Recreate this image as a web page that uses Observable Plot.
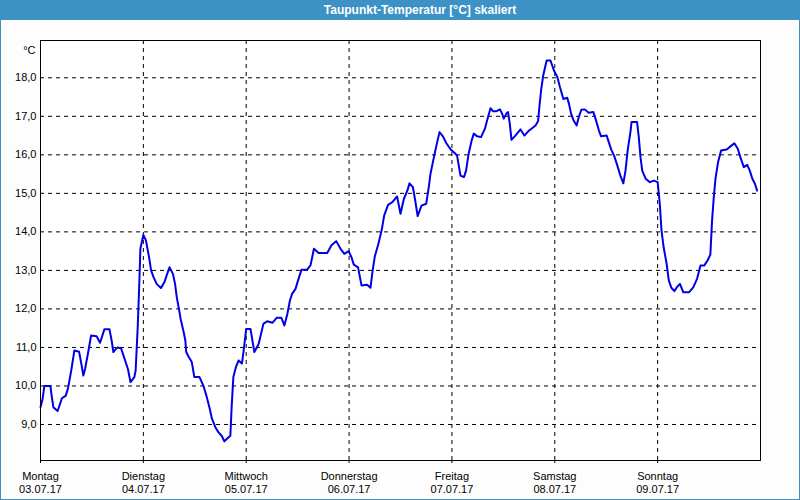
<!DOCTYPE html>
<html>
<head>
<meta charset="utf-8">
<script src="https://cdn.jsdelivr.net/npm/d3@7"></script>
<script src="https://cdn.jsdelivr.net/npm/@observablehq/plot@0.6"></script>
<style>
  html, body { margin: 0; padding: 0; background: #fcfdfc; }
  #win { position: relative; width: 800px; height: 500px; background: #fcfdfc; overflow: hidden; }
  #title { position: absolute; left: 0; top: 0; width: 800px; height: 20px; box-sizing: border-box;
           padding-left: 40px; background: #3c91c5; color: #fff; text-align: center;
           font: bold 12px "Liberation Sans", Arial, sans-serif; line-height: 21px; }
  #chart { position: absolute; left: 0; top: 20px; }
  #border { position: absolute; left: 0; top: 0; width: 800px; height: 500px; box-sizing: border-box;
            border: 1px solid #3c91c5; border-top: none; pointer-events: none; }
</style>
</head>
<body>
<div id="win">
  <div id="title">Taupunkt-Temperatur [°C] skaliert</div>
  <div id="chart"></div>
  <div id="border"></div>
</div>
<script>
// Hours since Montag 03.07.17 00:00
const hours = [
  0, 0.5, 0.9, 2.3, 2.6, 3.0, 4.0, 5.0, 5.9, 6.4, 6.9, 7.3, 7.9, 9.0, 9.6, 10.0, 10.4, 11.2, 11.8, 13.1,
  13.9, 14.9, 16.1, 16.6, 17.0, 17.6, 18.0, 18.8, 19.6, 20.4, 21.0, 21.9, 22.2, 22.7, 23.1, 23.3, 24.0,
  24.6, 25.4, 25.8, 26.4, 27.1, 28.1, 28.9, 29.5, 30.1, 30.9, 31.4, 31.8, 32.3, 32.7, 33.4, 33.8, 34.0,
  34.5, 35.3, 35.9, 37.1, 38.0, 38.7, 39.4, 40.0, 40.8, 41.5, 42.3, 42.9, 43.5, 44.3, 44.6, 45.0, 45.6,
  46.2, 47.0, 47.4, 48.0,
  49.0, 49.9, 50.9, 52.0, 52.9, 54.1, 55.1, 56.2, 56.9, 57.6, 58.2, 58.7, 59.5, 60.1, 60.9, 62.2, 63.0,
  63.8, 64.9, 66.9, 67.9, 69.0, 70.0, 70.9, 71.9,
  72.6, 73.1, 74.1, 74.9, 76.2, 77.0, 77.5, 78.0, 78.8, 79.6, 80.2, 81.1, 82.1, 83.2, 84.0, 84.8, 85.6,
  86.1, 86.9, 87.5, 88.0, 88.9, 90.0, 90.6, 91.0, 91.8, 92.3, 93.1, 93.9, 94.7, 95.7,
  96.7, 97.2, 97.6, 98.0, 98.8, 99.3, 99.9, 100.6, 101.1, 101.9, 102.8, 103.7, 104.2, 105.0, 105.6, 106.3,
  107.2, 107.7, 108.1, 108.7, 109.1, 109.5, 109.9, 110.8, 112.0, 112.9, 113.8, 114.7, 115.5, 116.1, 116.4,
  116.8, 117.3, 118.1, 119.0,
  119.8, 120.6, 121.2, 122.0, 122.9, 123.3, 123.8, 124.4, 125.1, 125.6, 126.2, 127.0, 127.9, 129.0, 129.5,
  130.3, 130.8, 132.1, 132.6, 133.2, 133.9, 134.6, 135.3, 136.0, 136.5, 137.0, 137.7, 137.9, 139.2, 139.6,
  140.0, 140.4, 141.2, 142.2, 143.1, 144.0,
  144.5, 144.9, 145.4, 146.1, 146.6, 147.2, 147.9, 148.6, 149.2, 150.0, 151.3, 152.3, 153.2, 154.0, 154.9,
  155.7, 156.3, 156.7, 157.1, 157.5, 158.1, 158.8, 160.1, 161.0, 161.9, 162.7, 163.3, 164.1, 164.9, 165.5,
  166.1, 166.7, 167.2
];
// Dew point temperature, °C
const values = [
  9.45, 9.67, 10.0, 10.0, 9.75, 9.45, 9.35, 9.68, 9.75, 9.93, 10.23, 10.49, 10.92, 10.89, 10.53, 10.27, 10.44, 10.92, 11.31, 11.29,
  11.12, 11.47, 11.47, 11.18, 10.88, 10.96, 11.0, 10.98, 10.71, 10.44, 10.1, 10.23, 10.4, 11.57, 12.82, 13.56, 13.92,
  13.78, 13.3, 13.0, 12.82, 12.65, 12.54, 12.69, 12.89, 13.08, 12.91, 12.65, 12.3, 12.0, 11.74, 11.4, 11.18, 10.88,
  10.77, 10.62, 10.23, 10.23, 10.01, 9.75, 9.45, 9.15, 8.93, 8.8, 8.7, 8.56, 8.63, 8.71, 9.45, 10.23, 10.49,
  10.66, 10.58, 10.92, 11.48,
  11.48, 10.88, 11.09, 11.61, 11.68, 11.64, 11.77, 11.77, 11.57, 11.87, 12.22, 12.39, 12.52, 12.74, 13.02, 13.02, 13.13,
  13.56, 13.45, 13.45, 13.65, 13.76, 13.56, 13.43, 13.5,
  13.33, 13.15, 13.08, 12.61, 12.63, 12.55, 13.0, 13.36, 13.67, 14.04, 14.43, 14.7, 14.77, 14.92, 14.47, 14.86, 15.07,
  15.26, 15.16, 14.77, 14.41, 14.68, 14.73, 15.16, 15.51, 15.94, 16.2, 16.59, 16.48, 16.3, 16.14,
  16.04, 15.98, 15.72, 15.46, 15.42, 15.59, 16.03, 16.37, 16.55, 16.48, 16.46, 16.68, 16.89, 17.21, 17.13, 17.13,
  17.18, 17.07, 16.94, 17.07, 17.11, 16.81, 16.39, 16.5, 16.66, 16.5, 16.61, 16.69, 16.76, 16.87, 17.24,
  17.67, 18.06, 18.45, 18.45,
  18.19, 18.02, 17.76, 17.45, 17.48, 17.33, 17.07, 16.89, 16.76, 16.98, 17.17, 17.18, 17.09, 17.11, 16.94,
  16.63, 16.48, 16.5, 16.33, 16.13, 15.96, 15.72, 15.46, 15.26, 15.59, 16.11, 16.63, 16.85, 16.85, 16.46,
  15.94, 15.59, 15.38, 15.29, 15.33, 15.29,
  14.73, 14.04, 13.6, 13.17, 12.74, 12.55, 12.46, 12.58, 12.65, 12.43, 12.43, 12.56, 12.78, 13.13, 13.13,
  13.27, 13.41, 14.3, 14.9, 15.38, 15.81, 16.11, 16.14, 16.22, 16.3, 16.16, 15.94, 15.68, 15.74, 15.59,
  15.38, 15.25, 15.07
];
const dayTicks = [0, 24, 48, 72, 96, 120, 144];
const dayNames = ["Montag", "Dienstag", "Mittwoch", "Donnerstag", "Freitag", "Samstag", "Sonntag"];
const dayDates = ["03.07.17", "04.07.17", "05.07.17", "06.07.17", "07.07.17", "08.07.17", "09.07.17"];
const yTicks = [9, 10, 11, 12, 13, 14, 15, 16, 17, 18];
const yUnit = "°C";

const data = hours.map((h, i) => ({h, v: values[i]}));

const chart = Plot.plot({
  width: 800,
  height: 480,
  marginTop: 20,
  marginLeft: 40,
  marginRight: 40,
  marginBottom: 40,
  style: {background: "transparent", fontFamily: "'Liberation Sans', Arial, sans-serif", fontSize: "11px", color: "#000"},
  x: {type: "linear", domain: [0, 168]},
  y: {domain: [8.065, 18.968]},
  marks: [
    Plot.frame({fill: "#fff", stroke: "none"}),
    Plot.gridY(yTicks, {stroke: "#000", strokeOpacity: 1, strokeDasharray: "4,4"}),
    Plot.gridX(dayTicks.slice(1), {stroke: "#000", strokeOpacity: 1, strokeDasharray: "4,4"}),
    Plot.axisY(yTicks, {tickSize: 0, tickPadding: 4, tickFormat: d => d.toFixed(1).replace(".", ","), label: null, fill: "#000"}),
    Plot.axisX(dayTicks, {tickSize: 3, tickPadding: 9, tickFormat: d => dayNames[dayTicks.indexOf(d)], label: null, fill: "#000", stroke: "#000"}),
    Plot.axisX(dayTicks, {tickSize: 0, tickPadding: 25, tickFormat: d => dayDates[dayTicks.indexOf(d)], label: null, fill: "#000"}),
    Plot.text([yUnit], {frameAnchor: "top-left", dx: -5, dy: 6, textAnchor: "end", text: d => d, fill: "#000"}),
    Plot.line(data, {x: "h", y: "v", stroke: "#0000e6", strokeWidth: 2, curve: "linear"}),
    Plot.frame({stroke: "#000", strokeWidth: 1})
  ]
});
document.getElementById("chart").appendChild(chart);
</script>
</body>
</html>
